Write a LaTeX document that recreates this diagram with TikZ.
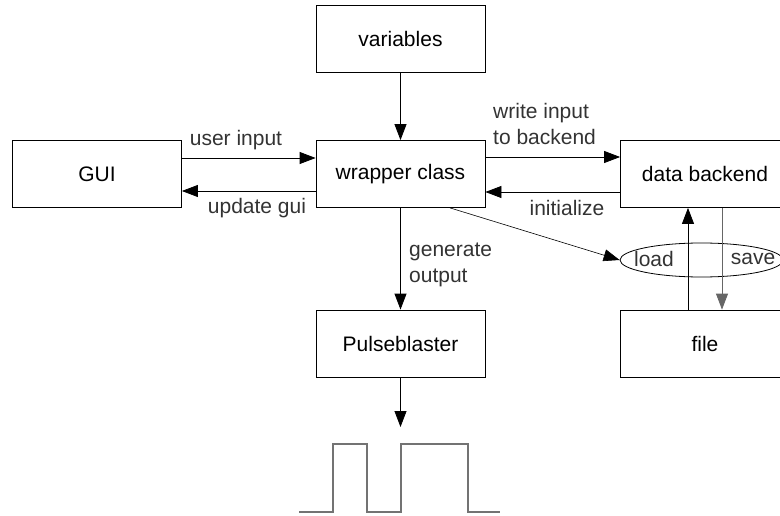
\documentclass[tikz,border=0pt]{standalone}
\usepackage{fontspec}
\setmainfont{Liberation Sans}
\usepackage{tikz}
\usetikzlibrary{arrows.meta, shapes.geometric}
\tikzset{
  box/.style={draw, line width=0.8pt, minimum width=169pt, minimum height=67pt, inner sep=0pt},
  arr/.style={line width=0.8pt, -{Triangle[length=16pt, width=12pt]}},
  lbl/.style={text=black!80, inner sep=0pt, align=left},
}

\begin{document}
\begin{tikzpicture}[x=1pt, y=-1pt, font=\fontsize{21}{26}\selectfont]
  \useasboundingbox (0,0) rectangle (780,516);
  \node[box] (variables) at (400.5, 38.5) {variables};
  \node[box] (gui) at (97, 174) {GUI};
  \node[box] (wrapper) at (400.5, 174) {wrapper class};
  \node[box] (backend) at (705, 174) {data backend};
  \node[box] (pulse) at (400.5, 343.5) {Pulseblaster};
  \node[box] (file) at (705, 343.5) {file};
  \node[draw, ellipse, line width=0.8pt, minimum width=163pt, minimum height=34pt] (store) at (701.5, 260) {};
  \node[lbl] (loadlbl) at (654, 259) {load};
  \node[lbl] (savelbl) at (753, 259) {save};

  \draw[arr] (variables) -- (wrapper);
  \draw[arr] ([yshift=16pt]gui.east) -- ([yshift=16pt]wrapper.west);
  \draw[arr] ([yshift=-17pt]wrapper.west) -- ([yshift=-17pt]gui.east);
  \draw[arr] ([yshift=17pt]wrapper.east) -- ([yshift=17pt]backend.west);
  \draw[arr] ([yshift=-18pt]backend.west) -- ([yshift=-18pt]wrapper.east);
  \draw[arr] (wrapper) -- (pulse);
  \draw[arr, line width=0.6pt] ([xshift=49.5pt]wrapper.south) -- (store.west);
  \draw[arr] ([xshift=-17pt]file.north) -- ([xshift=-17pt]backend.south);
  \draw[arr, black!60] ([xshift=17pt]backend.south) -- ([xshift=17pt]file.north);

  \node[lbl] (userin) at (236, 140) {user input};
  \node[lbl] (updgui) at (257, 208) {update gui};
  \node[lbl, anchor=west] (writein) at (493, 124) {write input\\to backend};
  \node[lbl] (init) at (567, 208) {initialize};
  \node[lbl, anchor=west] (genout) at (409, 265) {generate\\output};

  % output pulses
  \coordinate (pulsetip) at (400.5, 427);
  \draw[arr] (pulse) -- (pulsetip);
  \draw[black!55, line width=1.2pt] (299,512) -- (333,512) -- (333,444) -- (367,444) -- (367,512)
    -- (401,512) -- (401,444) -- (468,444) -- (468,512) -- (500,512);
\end{tikzpicture}
\end{document}
